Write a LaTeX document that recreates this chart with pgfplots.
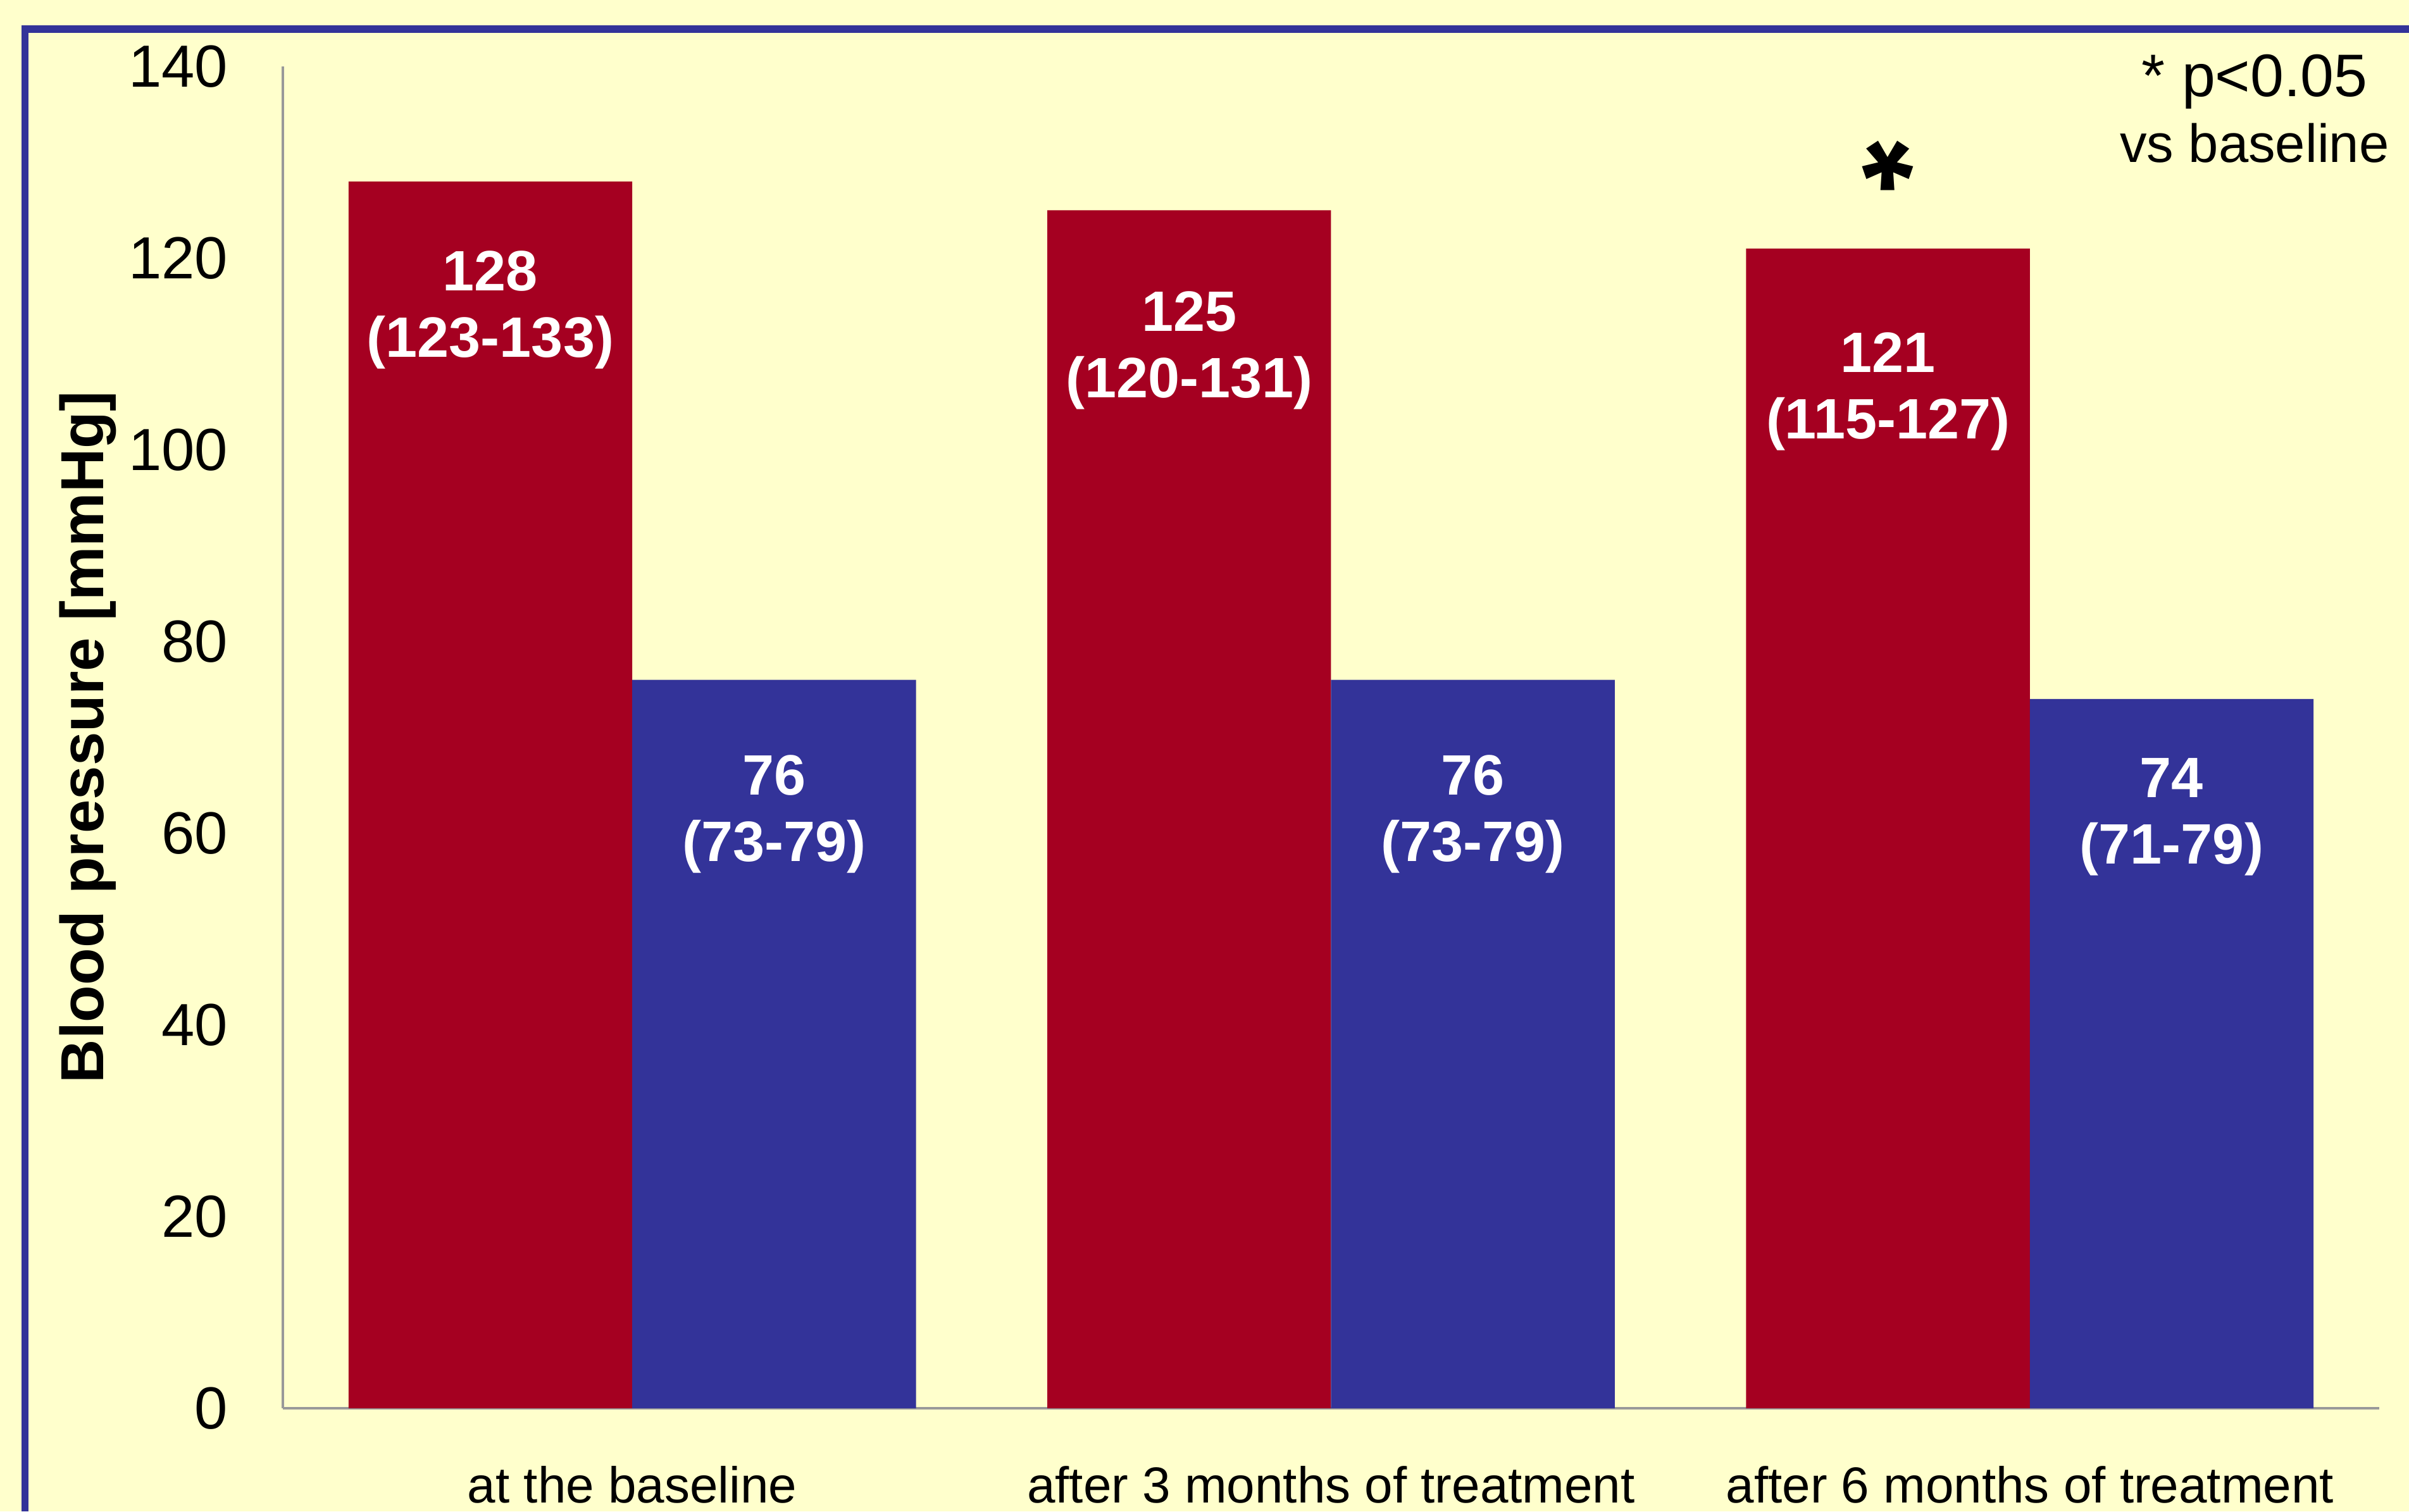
\documentclass[border=0pt]{standalone}
\usepackage{fontspec}
\setmainfont{Liberation Sans}
\usepackage{pgfplots}
\pgfplotsset{compat=1.18}
\definecolor{bg}{HTML}{FFFFCC}
\definecolor{barred}{HTML}{A50021}
\definecolor{barblue}{HTML}{333399}
\definecolor{axgray}{HTML}{999999}
\begin{document}
\begin{tikzpicture}
\fill[bg] (0,0) rectangle (380.7pt,238.9pt);
\useasboundingbox (0,0) rectangle (380.7pt,238.9pt);
\begin{axis}[
  at={(44.7pt,16.3pt)}, anchor=south west,
  scale only axis, width=331.3pt, height=212.1pt,
  xmin=-0.5, xmax=2.5, ymin=0, ymax=140,
  axis x line*=bottom, axis y line*=left,
  axis line style={axgray, line width=0.35pt, -},
  xtick={0,1,2},
  xticklabels={at the baseline, after 3 months of treatment, after 6 months of treatment},
  ytick={0,20,...,140},
  major tick length=0pt,
  /pgf/number format/assume math mode=true,
  xticklabel style={font=\fontsize{8}{9.6}\selectfont, anchor=base, yshift=-14.9pt},
  yticklabel style={font=\fontsize{9.4}{11}\selectfont, anchor=east, inner sep=0pt, xshift=-8.5pt},
  ylabel={Blood pressure [mmHg]},
  every axis y label/.style={at={(axis description cs:-0.09297,0.5)}, rotate=90, anchor=center, inner sep=0pt, font=\fontsize{9.6}{11}\selectfont\bfseries},
  ybar, bar width=0.406,
  clip=false,
]
\addplot[fill=barred, draw=none, bar shift=-0.203] coordinates {(0,128) (1,125) (2,121)};
\addplot[fill=barblue, draw=none, bar shift=0.203] coordinates {(0,76) (1,76) (2,74)};
\node[white, font=\fontsize{9}{10.5}\selectfont\bfseries, align=center] at (axis cs:-0.203,114.6) {128\\(123-133)};
\node[white, font=\fontsize{9}{10.5}\selectfont\bfseries, align=center] at (axis cs:0.797,110.4) {125\\(120-131)};
\node[white, font=\fontsize{9}{10.5}\selectfont\bfseries, align=center] at (axis cs:1.797,106.1) {121\\(115-127)};
\node[white, font=\fontsize{9}{10.5}\selectfont\bfseries, align=center] at (axis cs:0.203,62.0) {76\\(73-79)};
\node[white, font=\fontsize{9}{10.5}\selectfont\bfseries, align=center] at (axis cs:1.203,62.0) {76\\(73-79)};
\node[white, font=\fontsize{9}{10.5}\selectfont\bfseries, align=center] at (axis cs:2.203,61.7) {74\\(71-79)};
\node[font=\fontsize{21}{21}\selectfont\bfseries, anchor=base, rotate=180] at (axis cs:1.797,136.6) {*};
\end{axis}
\draw[barblue, line width=1.15pt] (3.95pt,0) -- (3.95pt,234.3pt) -- (380.7pt,234.3pt);
\node[font=\fontsize{9.5}{11}\selectfont, anchor=base] at (356.3pt,223.6pt) {* p<0.05};
\node[font=\fontsize{8.5}{10}\selectfont, anchor=base] at (356.3pt,213.2pt) {vs baseline};
\end{tikzpicture}
\end{document}
